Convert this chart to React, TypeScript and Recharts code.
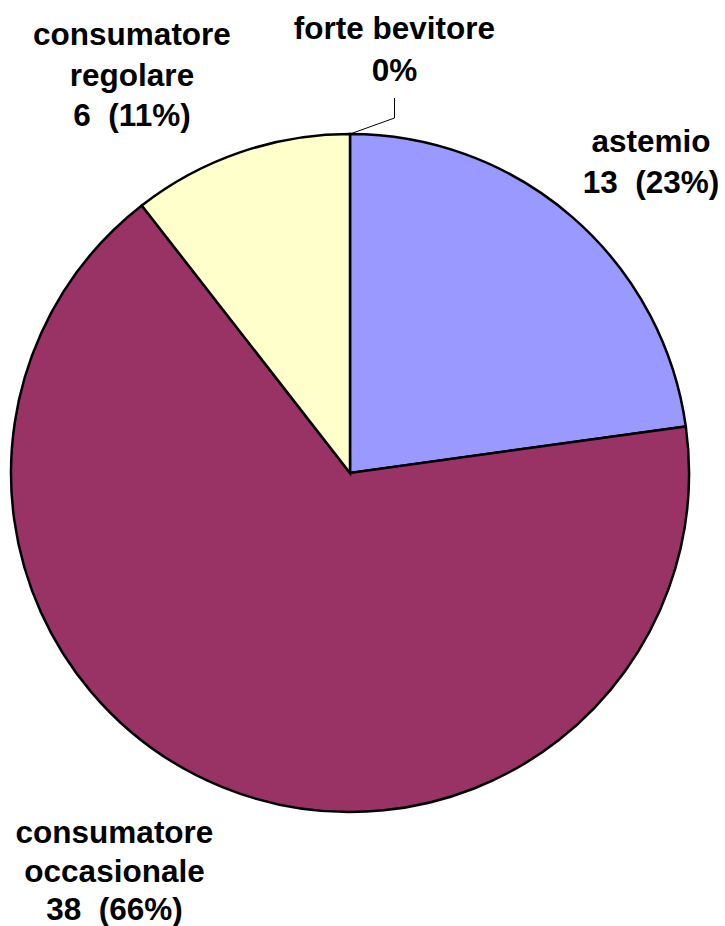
import React from "react";
import { PieChart, Pie, Cell } from "recharts";

const categories = ["astemio", "consumatore occasionale", "consumatore regolare", "forte bevitore"];
const values = [13, 38, 6, 0];
const percentLabels = ["23%", "66%", "11%", "0%"];
const nameLines = [["astemio"], ["consumatore", "occasionale"], ["consumatore", "regolare"], ["forte bevitore"]];
const showValue = [true, true, true, false];

const colors = ["#9999FF", "#993366", "#FFFFCC", "#FFFFFF"];
const labelAnchors = [
  { x: 651, y: 152, lh: 41 },
  { x: 114.5, y: 843, lh: 38.5 },
  { x: 132, y: 45, lh: 40.5 },
  { x: 394.5, y: 39, lh: 42 },
];

const data = categories.map((name, i) => ({ name, value: values[i] }));

const renderLabel = (props: any) => {
  const i = props.index;
  const a = labelAnchors[i];
  const lines = [...nameLines[i]];
  lines.push(showValue[i] ? `${values[i]}  (${percentLabels[i]})` : percentLabels[i]);
  return (
    <text
      key={`lbl-${i}`}
      textAnchor="middle"
      fontFamily="'Liberation Sans', Arial, sans-serif"
      fontWeight="bold"
      fontSize={31.5}
      fill="#000"
      style={{ whiteSpace: "pre" }}
    >
      {lines.map((l, j) => (
        <tspan key={j} x={a.x} y={a.y + j * a.lh}>
          {l}
        </tspan>
      ))}
    </text>
  );
};

const renderLabelLine = (props: any) => {
  const i = props.index;
  if (values[i] !== 0) return <g key={`ll-${i}`} />;
  const start = props.points[0];
  const a = labelAnchors[i];
  const pts = `${start.x},${start.y} ${a.x},${start.y - 16} ${a.x},${a.y + a.lh + 17}`;
  return <polyline key={`ll-${i}`} points={pts} fill="none" stroke="#000" strokeWidth={1} />;
};

export default function App() {
  return (
    <div style={{ position: "absolute", left: 0, top: 0, background: "#fff" }}>
      <PieChart width={725} height={926} margin={{ top: 0, right: 0, bottom: 0, left: 0 }}>
        <Pie
          data={data}
          dataKey="value"
          nameKey="name"
          cx={350}
          cy={473}
          outerRadius={339}
          startAngle={90}
          endAngle={-270}
          stroke="#000"
          strokeWidth={2.5}
          isAnimationActive={false}
          label={renderLabel}
          labelLine={renderLabelLine}
        >
          {data.map((d, i) => (
            <Cell key={d.name} fill={colors[i]} />
          ))}
        </Pie>
      </PieChart>
    </div>
  );
}
